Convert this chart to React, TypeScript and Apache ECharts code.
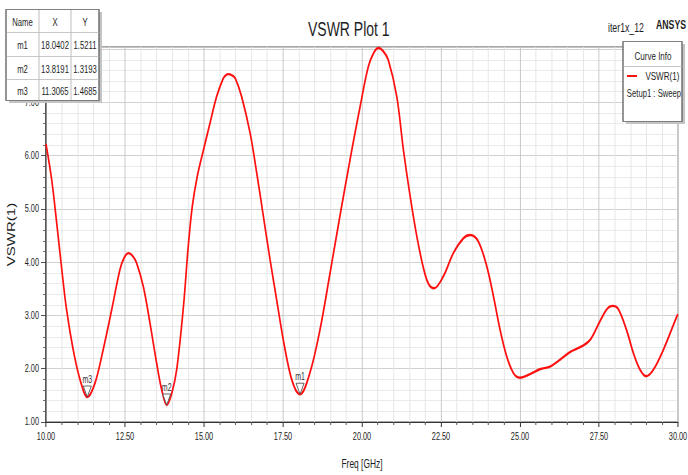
import React, { useEffect, useRef } from "react";
import * as echarts from "echarts";

// Swept VSWR(1) response, Setup1 : Sweep
const freqGHz = [
  10.0, 10.18, 10.34, 10.5, 10.65, 10.86, 11.08, 11.31, 11.55, 11.81, 12.08, 12.34, 12.47, 12.61,
  12.74, 12.87, 13.08, 13.29, 13.5, 13.66, 13.82, 13.98, 14.14, 14.35, 14.5, 14.63, 14.79, 14.98,
  15.19, 15.4, 15.61, 15.69, 15.77, 15.88, 15.99, 16.19, 16.46, 16.67, 16.88, 17.09, 17.3, 17.51,
  17.72, 17.9, 18.04, 18.35, 18.67, 18.99, 19.3, 19.62, 19.94, 20.2, 20.38, 20.52, 20.66, 20.83,
  21.1, 21.31, 21.52, 21.73, 21.94, 22.1, 22.28, 22.57, 22.89, 23.21, 23.42, 23.68, 23.95, 24.16,
  24.37, 24.58, 24.79, 25.0, 25.32, 25.63, 25.95, 26.27, 26.58, 26.95, 27.22, 27.53, 27.75, 27.92,
  28.1, 28.37, 28.59, 28.8, 28.99, 29.22, 29.54, 29.96, 30.0,
];
const vswr = [
  6.22, 5.55, 4.73, 3.86, 3.11, 2.36, 1.79, 1.47, 1.73, 2.36, 3.11, 3.86, 4.08, 4.17,
  4.12, 3.98, 3.54, 2.86, 2.11, 1.61, 1.32, 1.54, 2.0, 3.17, 4.29, 5.05, 5.62, 6.1,
  6.61, 7.11, 7.45, 7.51, 7.53, 7.51, 7.45, 7.11, 6.42, 5.67, 4.86, 4.05, 3.29, 2.54,
  1.92, 1.6, 1.52, 1.92, 2.73, 3.8, 4.86, 5.92, 6.92, 7.67, 7.94, 8.02, 7.97, 7.8,
  7.11, 6.11, 5.25, 4.5, 3.9, 3.6, 3.51, 3.73, 4.17, 4.45, 4.51, 4.39, 3.92, 3.36,
  2.73, 2.23, 1.92, 1.83, 1.9, 1.99, 2.04, 2.17, 2.31, 2.42, 2.54, 2.89, 3.12, 3.18,
  3.13, 2.73, 2.29, 1.98, 1.86, 1.98, 2.36, 2.98, 3.02,
];

// Marker table
const markerNames = ["m1", "m2", "m3"];
const markerFreq = [18.0402, 13.8191, 11.3065];
const markerVswr = [1.5211, 1.3193, 1.4685];
const markerFreqText = ["18.0402", "13.8191", "11.3065"];
const markerVswrText = ["1.5211", "1.3193", "1.4685"];
const tableHeader = ["Name", "X", "Y"];

// The plot is laid out on a wider canvas and squeezed horizontally,
// which gives the narrow look of the report fonts.
const SQUEEZE = 0.7;
const PAGE_W = 688;
const PAGE_H = 475;
const CHART_W = PAGE_W / SQUEEZE;
const hx = (px: number) => px / SQUEEZE; // page x -> chart x

const SANS = '"Liberation Sans", Arial, sans-serif';
const VLINE = 1 / SQUEEZE; // keeps vertical strokes at 1px after squeezing

function buildTable(): any[] {
  const y0 = 9, h = 91;
  const colEdges = [hx(6), hx(39), hx(71), hx(99)];
  const rowEdges = [9, 32, 56, 79, 100];
  const x0 = colEdges[0];
  const w = colEdges[3] - colEdges[0];
  const els: any[] = [];
  els.push({ type: "rect", z: 100, shape: { x: x0 + hx(3), y: y0 + 3, width: w, height: h }, style: { fill: "#c4c4c4" } });
  els.push({ type: "rect", z: 101, shape: { x: x0, y: y0 + 0.5, width: w, height: h }, style: { fill: "#fff", stroke: "#6a6a6a", lineWidth: 1 } });
  els.push({ type: "line", z: 101, shape: { x1: x0, y1: y0, x2: x0, y2: y0 + h + 1 }, style: { stroke: "#6a6a6a", lineWidth: VLINE } });
  els.push({ type: "line", z: 101, shape: { x1: x0 + w, y1: y0, x2: x0 + w, y2: y0 + h + 1 }, style: { stroke: "#6a6a6a", lineWidth: VLINE } });
  [colEdges[1], colEdges[2]].forEach((cx) =>
    els.push({ type: "line", z: 102, shape: { x1: cx, y1: y0 + 1, x2: cx, y2: y0 + h }, style: { stroke: "#bdbdbd", lineWidth: VLINE } })
  );
  rowEdges.slice(1, 4).forEach((ry) =>
    els.push({ type: "line", z: 102, shape: { x1: x0 + 1, y1: ry + 0.5, x2: x0 + w, y2: ry + 0.5 }, style: { stroke: "#bdbdbd", lineWidth: 1 } })
  );
  const rows = [tableHeader, ...markerNames.map((n, i) => [n, markerFreqText[i], markerVswrText[i]])];
  rows.forEach((row, r) => {
    const cy = (rowEdges[r] + rowEdges[r + 1]) / 2 + 1;
    row.forEach((t, c) => {
      els.push({
        type: "text",
        z: 103,
        x: (colEdges[c] + colEdges[c + 1]) / 2,
        y: cy,
        style: { text: t, fill: "#1e1e1e", font: `11px ${SANS}`, align: "center", verticalAlign: "middle" },
      });
    });
  });
  return els;
}

function buildCurveInfo(): any[] {
  const x0 = hx(623), x1 = hx(682), y0 = 41, h = 80;
  const w = x1 - x0;
  return [
    { type: "rect", z: 50, shape: { x: x0 + hx(3), y: y0 + 3, width: w, height: h }, style: { fill: "#c4c4c4" } },
    { type: "rect", z: 51, shape: { x: x0, y: y0 + 0.5, width: w, height: h }, style: { fill: "#fff", stroke: "#6a6a6a", lineWidth: 1 } },
    { type: "line", z: 51, shape: { x1: x0, y1: y0, x2: x0, y2: y0 + h + 1 }, style: { stroke: "#6a6a6a", lineWidth: VLINE } },
    { type: "line", z: 51, shape: { x1: x1, y1: y0, x2: x1, y2: y0 + h + 1 }, style: { stroke: "#6a6a6a", lineWidth: VLINE } },
    { type: "line", z: 52, shape: { x1: x0 + 1, y1: 66.5, x2: x1, y2: 66.5 }, style: { stroke: "#bdbdbd", lineWidth: 1 } },
    { type: "text", z: 52, x: hx(653), y: 56, style: { text: "Curve Info", fill: "#1e1e1e", font: `11.5px ${SANS}`, align: "center", verticalAlign: "middle" } },
    { type: "text", z: 52, x: hx(654), y: 93, style: { text: "Setup1 : Sweep", fill: "#1e1e1e", font: `11px ${SANS}`, align: "center", verticalAlign: "middle" } },
  ];
}

export default function App() {
  const ref = useRef<HTMLDivElement>(null);

  useEffect(() => {
    if (!ref.current) return;
    const chart = echarts.init(ref.current, null, { renderer: "svg" });
    const curve = freqGHz.map((f, i) => [f, vswr[i]]);
    const markers = markerNames.map((n, i) => ({ name: n, value: [markerFreq[i], markerVswr[i]] }));

    chart.setOption({
      animation: false,
      backgroundColor: "#ffffff",
      title: {
        text: "VSWR Plot 1",
        left: hx(308) - 5,
        top: 14,
        textStyle: { fontFamily: SANS, fontSize: 20, fontWeight: "normal", color: "#1e1e1e" },
      },
      legend: {
        data: [{ name: "VSWR(1)", icon: "rect" }],
        left: hx(627),
        top: 70,
        padding: 0,
        z: 60,
        itemWidth: hx(10),
        itemHeight: 2,
        itemGap: 0,
        textStyle: { fontFamily: SANS, fontSize: 11.5, color: "#1e1e1e", padding: [0, 0, 0, 7] },
        selectedMode: false,
      },
      grid: {
        left: hx(46),
        top: 47,
        width: hx(632),
        height: 375,
        outerBoundsMode: "none",
        containLabel: false,
        show: true,
        borderColor: "#8a8a8a",
        borderWidth: 1.3,
        backgroundColor: "transparent",
      },
      xAxis: {
        type: "value",
        min: 10,
        max: 30,
        interval: 2.5,
        name: "Freq [GHz]",
        nameLocation: "middle",
        nameGap: 36,
        nameTextStyle: { fontFamily: SANS, fontSize: 12, color: "#1e1e1e" },
        axisLine: { onZero: false, lineStyle: { color: "#1a1a1a", width: 1 } },
        axisTick: { show: true, inside: false, length: 5, lineStyle: { color: "#333", width: VLINE } },
        minorTick: { show: true, splitNumber: 5, length: 3, lineStyle: { color: "#555", width: VLINE } },
        axisLabel: {
          margin: 9,
          fontFamily: SANS,
          fontSize: 10.5,
          color: "#1e1e1e",
          formatter: (v: number) => v.toFixed(2),
        },
        splitLine: { show: true, lineStyle: { color: "#c9c9c9", width: VLINE } },
        minorSplitLine: { show: true, lineStyle: { color: "#e6e6e6", width: VLINE } },
      },
      yAxis: {
        type: "value",
        min: 1,
        max: 8.04,
        interval: 1,
        name: "VSWR(1)",
        nameLocation: "middle",
        nameGap: 33,
        nameTextStyle: { fontFamily: SANS, fontSize: 15, color: "#1e1e1e" },
        axisLine: { onZero: false, lineStyle: { color: "#1a1a1a", width: VLINE } },
        axisTick: { show: true, inside: false, length: hx(5), lineStyle: { color: "#333" } },
        minorTick: { show: true, splitNumber: 5, length: hx(3), lineStyle: { color: "#555" } },
        axisLabel: {
          margin: hx(7),
          fontFamily: SANS,
          fontSize: 10.5,
          color: "#1e1e1e",
          showMaxLabel: false,
          // the 8.00 row sits under the marker table
          formatter: (v: number) => (v > 7.5 ? "" : v.toFixed(2)),
        },
        splitLine: { show: true, lineStyle: { color: "#c9c9c9", width: 1 } },
        minorSplitLine: { show: true, lineStyle: { color: "#e6e6e6", width: 1 } },
      },
      series: [
        {
          name: "VSWR(1)",
          type: "line",
          data: curve,
          smooth: 0.35,
          showSymbol: false,
          symbol: "none",
          lineStyle: { color: "#ff1010", width: 2.4 },
          itemStyle: { color: "#ff1010" },
          z: 3,
        },
        {
          name: "markers",
          type: "scatter",
          data: markers,
          symbol: "path://M0,0 L8,0 L4,11 Z",
          symbolSize: [hx(8), 11],
          symbolOffset: [0, -5.5],
          itemStyle: { color: "#ffffff", borderColor: "#4a4a4a", borderWidth: 1, opacity: 1 },
          label: {
            show: true,
            position: "top",
            distance: 1,
            formatter: "{b}",
            fontFamily: SANS,
            fontSize: 10,
            color: "#333",
          },
          z: 4,
        },
      ],
      graphic: [
        ...buildTable(),
        ...buildCurveInfo(),
        { type: "text", z: 10, x: hx(608), y: 27, style: { text: "iter1x_12", fill: "#1e1e1e", font: `12.5px ${SANS}`, verticalAlign: "middle" } },
        { type: "text", z: 10, x: hx(656), y: 24, style: { text: "ANSYS", fill: "#1e1e1e", font: `bold 12.5px ${SANS}`, verticalAlign: "middle" } },
      ],
    });

    return () => chart.dispose();
  }, []);

  return (
    <div style={{ position: "fixed", left: 0, top: 0, width: PAGE_W, height: PAGE_H, overflow: "hidden", background: "#fff" }}>
      <div
        ref={ref}
        style={{
          position: "absolute",
          left: 0,
          top: 0,
          width: CHART_W,
          height: PAGE_H,
          transform: `scaleX(${SQUEEZE})`,
          transformOrigin: "0 0",
        }}
      />
    </div>
  );
}
